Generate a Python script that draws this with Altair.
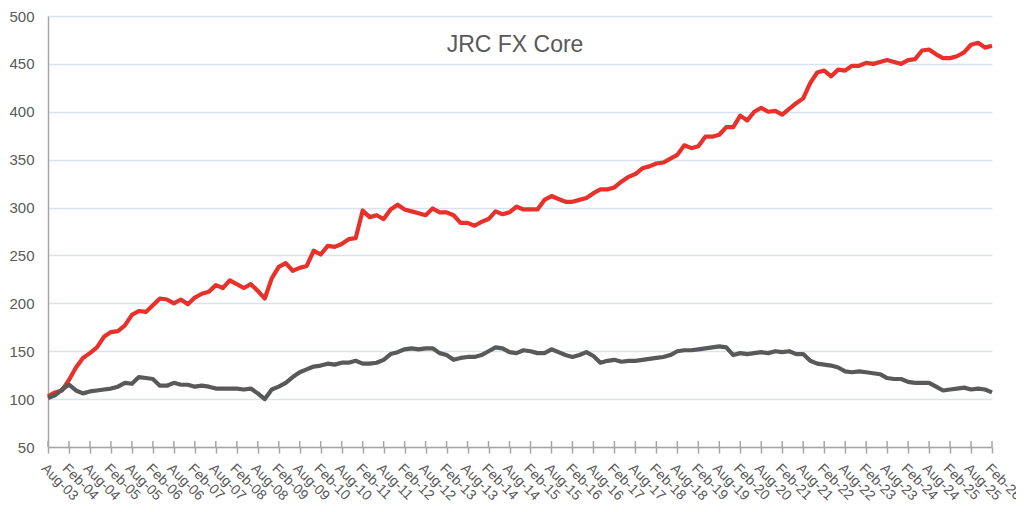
import json
import altair as alt
import pandas as pd

tick_labels = [
    "Aug-03", "Feb-04", "Aug-04", "Feb-05", "Aug-05", "Feb-06", "Aug-06", "Feb-07",
    "Aug-07", "Feb-08", "Aug-08", "Feb-09", "Aug-09", "Feb-10", "Aug-10", "Feb-11",
    "Aug-11", "Feb-12", "Aug-12", "Feb-13", "Aug-13", "Feb-14", "Aug-14", "Feb-15",
    "Aug-15", "Feb-16", "Aug-16", "Feb-17", "Aug-17", "Feb-18", "Aug-18", "Feb-19",
    "Aug-19", "Feb-20", "Aug-20", "Feb-21", "Aug-21", "Feb-22", "Aug-22", "Feb-23",
    "Aug-23", "Feb-24", "Aug-24", "Feb-25", "Aug-25", "Feb-26",
]
tick_months = list(range(0, 271, 6))

# months since Aug-03, every 2 months
months = list(range(0, 271, 2))

red_values = [
    103, 107, 109, 120, 133, 143, 148, 154, 165, 170,
    171, 177, 188, 192, 191, 198, 205, 204, 200, 204,
    199, 206, 210, 212, 219, 216, 224, 220, 216, 220,
    213, 205, 226, 238, 242, 234, 237, 239, 255, 251,
    260, 259, 262, 267, 268, 297, 290, 292, 288, 298,
    303, 298, 296, 294, 292, 299, 295, 295, 292, 284,
    284, 281, 285, 288, 296, 293, 295, 301, 298, 298,
    298, 308, 312, 309, 306, 306, 308, 310, 315, 319,
    319, 321, 327, 332, 335, 341, 343, 346, 347, 351,
    355, 365, 362, 364, 374, 374, 376, 384, 384, 396,
    391, 400, 404, 400, 401, 397, 403, 409, 414, 430,
    441, 443, 437, 444, 443, 448, 448, 451, 450, 452,
    454, 452, 450, 454, 455, 464, 465, 460, 456, 456,
    458, 462, 470, 472, 467, 469,
]

gray_values = [
    101, 104, 110, 115, 109, 106, 108, 109, 110, 111,
    113, 117, 116, 123, 122, 121, 114, 114, 117, 115,
    115, 113, 114, 113, 111, 111, 111, 111, 110, 111,
    106, 100, 110, 113, 117, 123, 128, 131, 134, 135,
    137, 136, 138, 138, 140, 137, 137, 138, 141, 147,
    149, 152, 153, 152, 153, 153, 148, 146, 141, 143,
    144, 144, 146, 150, 154, 153, 149, 148, 151, 150,
    148, 148, 152, 149, 146, 144, 146, 149, 145, 138,
    140, 141, 139, 140, 140, 141, 142, 143, 144, 146,
    150, 151, 151, 152, 153, 154, 155, 154, 146, 148,
    147, 148, 149, 148, 150, 149, 150, 147, 147, 140,
    137, 136, 135, 133, 129, 128, 129, 128, 127, 126,
    122, 121, 121, 118, 117, 117, 117, 113, 109, 110,
    111, 112, 110, 111, 110, 107,
]

series_names = ["JRC FX Core", "Benchmark"]
series_colors = ["#E8312A", "#595959"]

df = pd.concat([
    pd.DataFrame({"month": months, "value": red_values, "series": series_names[0], "ord": 0}),
    pd.DataFrame({"month": months, "value": gray_values, "series": series_names[1], "ord": 1}),
])

FONT = "Liberation Sans"
W, H = 944, 431
label_expr = json.dumps(tick_labels) + "[round(datum.value / 6)]"

x_scale = alt.Scale(domain=[0, 270], nice=False, zero=False)
x_axis = alt.Axis(
    values=tick_months,
    labelExpr=label_expr,
    labelAngle=45,
    labelAlign="left",
    labelBaseline="top",
    labelPadding=8,
    labelFontSize=14,
    labelColor="#595959",
    labelFont=FONT,
    labelOverlap=False,
    labelBound=False,
    grid=False,
    domainColor="#a6a6a6",
    domainWidth=1.5,
    tickColor="#a6a6a6",
    tickWidth=1.5,
    tickSize=6,
)

lines = alt.Chart(df).mark_line(strokeWidth=4.2, strokeJoin="round").encode(
    x=alt.X("month:Q", title=None, scale=x_scale, axis=x_axis),
    y=alt.Y(
        "value:Q",
        title=None,
        scale=alt.Scale(domain=[50, 500], nice=False, zero=False),
        axis=alt.Axis(
            values=list(range(50, 501, 50)),
            labelFontSize=15,
            labelColor="#595959",
            labelFont=FONT,
            labelPadding=14,
            ticks=False,
            grid=True,
            gridColor="#d9e2f1",
            gridWidth=1.5,
            domainColor="#a6a6a6",
            domainWidth=1.5,
        ),
    ),
    color=alt.Color(
        "series:N",
        scale=alt.Scale(domain=series_names, range=series_colors),
        legend=None,
    ),
    order=alt.Order("ord:Q"),
)

ticks_df = pd.DataFrame({"month": tick_months})
inner_ticks = alt.Chart(ticks_df).mark_rule(color="#a6a6a6", strokeWidth=1.5).encode(
    x=alt.X("month:Q", title=None, scale=x_scale, axis=x_axis),
    y=alt.value(H - 6),
    y2=alt.value(H),
)

title_df = pd.DataFrame({"t": ["JRC FX Core"]})
title = alt.Chart(title_df).mark_text(
    fontSize=23, color="#595959", font=FONT, align="center", baseline="alphabetic"
).encode(text="t:N", x=alt.value(467), y=alt.value(36))

chart = alt.layer(lines, inner_ticks, title).properties(
    width=W,
    height=H,
    autosize=alt.AutoSizeParams(type="none"),
    padding={"left": 40, "top": 8, "right": 24, "bottom": 62},
    background="white",
).configure_view(stroke=None)

chart.save("out.html", embed_options={"renderer": "svg", "actions": False})
